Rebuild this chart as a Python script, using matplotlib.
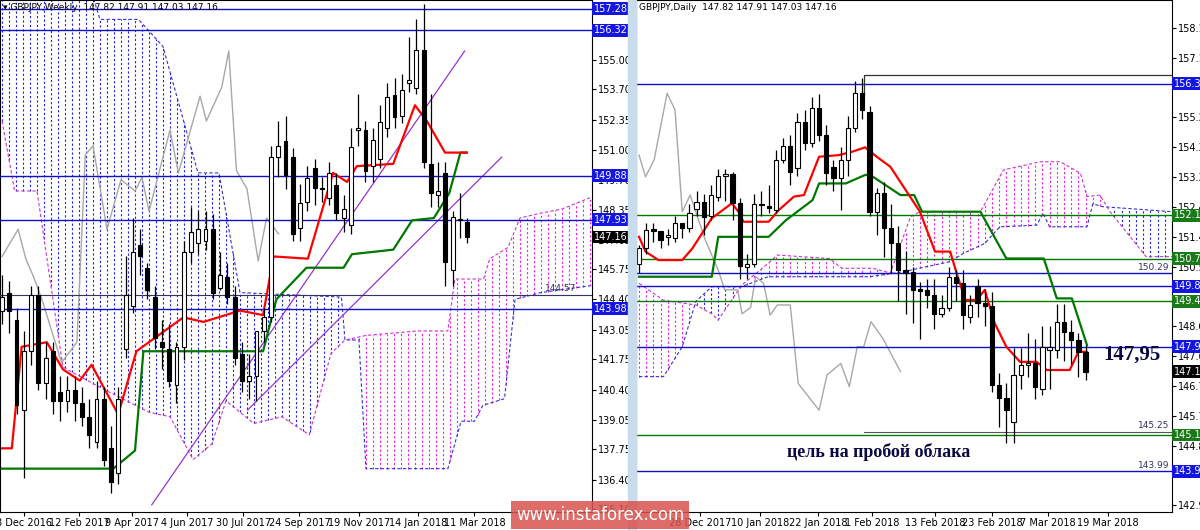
import matplotlib
matplotlib.use("Agg")
import matplotlib.pyplot as plt
import matplotlib.transforms as mtransforms
from matplotlib.patches import Rectangle
import numpy as np

BLUE = "#1010c8"
GREEN = "#007800"
RED = "#ff0000"
GRAY = "#a8a8a8"
NAVY = "#0a0a40"

# ---------------- weekly panel data ----------------
w_open = [143.9, 144.7, 143.5, 139.5, 142.1, 144.6, 140.7, 142.1, 140.3, 139.9,
          140.4, 139.8, 139.2, 138.1, 140.0, 137.8, 136.7, 142.2, 144.1, 146.8,
          145.8, 144.5, 142.5, 142.2, 140.6, 142.3, 146.5, 146.9, 147.0, 147.5,
          144.9, 145.4, 144.5, 142.0, 140.8, 141.0, 143.0, 143.6, 150.7, 151.4,
          150.7, 147.56, 148.7, 150.2, 149.35, 148.9, 149.46, 148.0, 147.7, 151.9,
          151.9, 150.3, 150.6, 152.0, 153.45, 152.5, 154.0, 153.76, 155.44, 150.4,
          149.0, 150.0, 145.7, 147.9, 147.82]
w_close = [144.5, 143.9, 139.7, 142.1, 144.6, 140.7, 141.8, 139.9, 139.9, 140.4,
           139.8, 139.2, 138.4, 140.0, 137.3, 136.3, 140.0, 144.6, 146.5, 146.3,
           144.8, 142.7, 142.3, 140.8, 142.3, 146.5, 147.4, 147.5, 147.5, 144.7,
           145.5, 144.5, 141.8, 140.8, 141.0, 143.0, 143.6, 150.7, 151.2, 149.9,
           147.3, 148.67, 149.77, 149.33, 149.3, 150.0, 148.22, 148.4, 151.15, 152.0,
           150.1, 151.46, 152.25, 153.36, 152.48, 153.67, 154.1, 155.44, 150.48, 149.1,
           149.2, 146.05, 148.05, 147.95, 147.16]
w_high = [145.5, 145.2, 144.0, 143.0, 145.0, 145.0, 142.5, 142.5, 141.0, 141.0,
          141.0, 140.5, 140.0, 140.8, 140.5, 138.8, 140.5, 146.3, 148.0, 147.5,
          146.0, 145.0, 143.5, 143.3, 142.5, 147.0, 148.5, 148.3, 148.3, 148.2,
          146.5, 146.0, 145.0, 142.5, 142.0, 141.8, 144.0, 151.2, 152.3, 152.5,
          151.1, 149.5, 150.3, 150.6, 149.8, 150.5, 150.0, 149.0, 152.0, 153.5,
          152.3, 152.0, 153.0, 154.0, 154.2, 154.4, 156.0, 156.8, 157.5, 153.5,
          150.5, 150.5, 148.3, 149.1, 148.0]
w_low = [143.3, 142.9, 139.3, 136.5, 141.5, 140.4, 140.0, 139.3, 139.0, 139.4,
         139.0, 138.8, 137.8, 137.8, 137.0, 135.8, 136.2, 141.8, 143.8, 145.5,
         144.4, 142.2, 141.3, 140.5, 139.8, 141.7, 146.0, 146.4, 146.6, 144.4,
         144.8, 144.2, 141.5, 140.3, 140.0, 139.9, 142.5, 143.4, 149.8, 149.3,
         147.0, 147.0, 148.3, 148.6, 148.7, 148.6, 147.9, 147.4, 147.3, 151.2,
         149.6, 149.6, 150.2, 151.6, 152.0, 152.2, 153.6, 153.5, 150.2, 148.5,
         148.5, 145.0, 145.0, 147.1, 146.9]

w_tenkan_x = [0, 1.4, 2.8, 6.4, 8.7, 11.1, 12.8, 16.6, 19.2, 25.9, 28.8, 34, 37.3, 38.8,
              43.7, 47.3, 49.3, 50.7, 55.9, 59, 60.7, 63.3, 66.4]
w_tenkan_y = [137.8, 137.8, 142.3, 142.5, 141.3, 140.8, 141.5, 139.3, 142.1, 143.6, 143.4,
              143.9, 143.7, 146.3, 146.2, 150.0, 149.6, 150.3, 150.4, 153.0, 152.3, 150.9, 150.9]
w_kijun_x = [0, 15.9, 19, 20.2, 37.3, 39.2, 43.5, 48.8, 50, 55.9, 58.6, 61.7, 63.9, 65.5, 66.4]
w_kijun_y = [136.9, 136.9, 137.7, 142.1, 142.1, 144.4, 145.8, 145.8, 146.4, 146.6, 147.9,
             148.0, 149.1, 150.9, 150.9]
w_chikou_x = [0, 2.3, 3.4, 4.5, 5.7, 8.5, 10.7, 11.9, 13, 15, 17, 19, 20, 21, 24, 25.2,
              28.3, 29.2, 31.4, 32.4, 33.5, 35, 36.6, 37.8, 39.5]
w_chikou_y = [146.3, 147.5, 146.2, 145.4, 144.4, 141.6, 142.5, 150.8, 151.2, 147.5, 149.7,
              149.2, 149.8, 148.3, 151.9, 150.0, 153.4, 152.3, 153.8, 155.4, 150.1, 149.3,
              146.1, 148.0, 147.3]
w_spanA_x = [0, 13, 14, 19.5, 23, 28, 31, 34, 48.5, 49, 51, 52, 63.7, 65.6, 67.5, 68.7,
             71.8, 73.3, 77, 84]
w_spanA_y = [157.8, 157.8, 156.8, 156.8, 155.6, 150.0, 150.0, 144.7, 144.5, 142.6, 142.6,
             136.9, 136.9, 139.0, 139.0, 139.7, 140.0, 144.4, 144.7, 145.0]
w_spanB_x = [0, 1.8, 5, 8.7, 14, 21, 24, 27.3, 30, 32, 36, 40, 43.9, 47, 49, 52, 59.4,
             63.7, 64.7, 68.8, 69.7, 72.3, 74, 76.7, 80, 84]
w_spanB_y = [152.3, 149.2, 149.2, 141.4, 140.5, 139.4, 139.2, 137.3, 138.0, 139.9, 138.9,
             139.2, 138.4, 142.0, 142.6, 142.8, 143.0, 143.0, 145.3, 145.3, 146.2, 146.7,
             148.0, 148.2, 148.4, 148.9]
w_levels = [157.28, 156.32, 149.88, 147.93, 143.98]
w_yticks = [155.00, 153.70, 152.35, 151.00, 149.70, 148.35, 147.05, 145.75, 144.40,
            143.05, 141.75, 140.40, 139.05, 137.75, 136.40, 135.10]
w_date_pos = [3.2, 11.0, 18.5, 26.5, 34.5, 42.5, 51.0, 59.5, 67.5]
w_date_lbl = ["8 Dec 2016", "12 Feb 2017", "9 Apr 2017", "4 Jun 2017", "30 Jul 2017",
              "24 Sep 2017", "19 Nov 2017", "14 Jan 2018", "11 Mar 2018"]

# ---------------- daily panel data ----------------
d_open = [150.58, 151.08, 151.67, 151.65, 151.45, 151.40, 151.88, 151.72, 152.33, 152.57,
          152.10, 152.73, 153.40, 153.44, 152.54, 150.48, 150.60, 152.50, 152.44, 152.32,
          153.90, 154.34, 153.63, 155.12, 154.43, 155.54, 154.69, 153.68, 153.31, 153.90,
          154.93, 156.02, 155.43, 152.25, 152.83, 151.72, 151.26, 150.39, 150.34, 149.78,
          149.76, 149.60, 149.00, 149.20, 150.18, 149.97, 148.90, 149.88, 149.33, 149.24,
          146.73, 146.31, 145.56, 147.05, 147.37, 147.42, 146.62, 147.85, 147.85, 148.75,
          148.43, 148.16, 147.79]
d_close = [151.08, 151.67, 151.65, 151.35, 151.50, 151.88, 151.72, 152.22, 152.57, 152.07,
           152.78, 153.40, 153.44, 152.54, 150.52, 150.60, 152.50, 152.46, 152.36, 153.90,
           154.34, 153.52, 155.12, 154.43, 155.54, 154.69, 153.47, 153.31, 153.90, 154.93,
           156.02, 155.49, 152.25, 152.83, 151.72, 151.26, 150.39, 150.29, 149.76, 149.74,
           149.60, 149.00, 149.20, 150.18, 149.97, 148.96, 149.28, 149.33, 149.24, 146.73,
           146.31, 145.93, 147.05, 147.37, 147.42, 146.68, 147.95, 147.95, 148.75, 148.43,
           148.16, 147.79, 147.16]
d_high = [151.2, 151.9, 151.9, 151.6, 151.7, 152.1, 151.9, 152.5, 152.9, 152.8,
          153.1, 153.6, 153.6, 153.5, 152.7, 150.9, 152.8, 152.9, 153.1, 154.2,
          154.6, 154.7, 155.4, 155.5, 155.9, 156.0, 155.0, 153.9, 154.3, 155.3,
          156.4, 156.5, 155.6, 153.0, 153.2, 152.5, 151.8, 151.0, 150.5, 150.0,
          150.1, 150.1, 149.6, 150.5, 150.4, 150.4, 149.6, 150.1, 149.8, 149.7,
          147.1, 146.8, 147.9, 147.9, 148.4, 148.2, 148.6, 148.6, 149.3, 149.3,
          148.8, 148.4, 148.0]
d_low = [150.3, 150.9, 151.3, 151.1, 151.2, 151.3, 151.4, 151.6, 152.1, 151.5,
         152.0, 152.6, 152.6, 152.0, 150.1, 150.1, 150.5, 152.1, 152.2, 152.2,
         153.8, 153.1, 153.4, 154.2, 154.3, 154.5, 153.1, 152.9, 152.3, 153.4,
         154.8, 155.2, 152.1, 151.5, 150.8, 150.3, 149.4, 149.0, 148.7, 148.2,
         149.2, 148.5, 148.9, 149.1, 149.4, 148.5, 148.7, 148.9, 148.6, 146.5,
         145.4, 144.9, 144.9, 146.6, 147.0, 146.3, 146.4, 146.6, 147.6, 147.5,
         147.4, 147.0, 146.9]
d_tenkan_x = [0, 0.9, 2.7, 6, 7.4, 10.1, 12.9, 13.8, 14.5, 18, 19.4, 21.5, 22.9, 25, 27.7,
              29.6, 31.4, 33, 34.9, 39, 41.1, 43.2, 44.1, 45.3, 46.9, 48, 49.4, 51, 52.9,
              55.2, 56.6, 59.8, 61, 62.2]
d_tenkan_y = [151.45, 150.98, 150.71, 150.71, 151.08, 152.04, 152.52, 152.25, 151.93, 151.93,
              152.3, 152.73, 152.78, 154.0, 154.05, 154.16, 154.3, 154.0, 153.68, 152.25,
              150.98, 150.98, 150.29, 149.44, 149.44, 149.76, 148.69, 147.95, 147.47, 147.47,
              147.21, 147.21, 147.79, 147.79]
d_kijun_x = [0, 10.1, 11, 18, 20.4, 24.1, 25, 28.7, 31.4, 32.1, 36.3, 38.2, 39.3, 47.4, 51,
             56.2, 58, 60.1, 62.2]
d_kijun_y = [150.18, 150.18, 151.45, 151.45, 151.98, 152.62, 153.15, 153.15, 153.42, 153.42,
             152.78, 152.78, 152.25, 152.25, 150.76, 150.76, 149.49, 149.49, 148.0]
d_chikou_x = [0, 0.9, 2.1, 3.9, 5, 6, 7.1, 9.2, 11, 11.9, 13.7, 14.3, 15.5, 16.2, 17.3, 18.2,
              19.2, 21, 22.1, 25, 26.1, 28, 29.2, 30.3, 31.2, 32.2, 33.9, 36.3]
d_chikou_y = [154.05, 153.36, 153.9, 156.02, 155.49, 152.25, 152.78, 151.35, 150.39, 149.76,
              149.76, 149.0, 149.2, 150.18, 149.97, 148.96, 149.28, 149.28, 146.78, 145.93,
              147.05, 147.42, 146.68, 147.95, 147.95, 148.75, 148.2, 147.16]
d_spanA_x = [0, 3.4, 6, 7.9, 10.1, 11, 14.2, 17.9, 32.1, 36.7, 43.2, 45, 48, 50.1, 55.2,
             56.1, 57, 62.2, 63, 64.4, 74]
d_spanA_y = [147.0, 147.0, 147.95, 149.4, 149.86, 149.86, 149.86, 150.18, 150.18, 150.34,
             150.66, 150.92, 151.24, 151.77, 151.82, 152.2, 151.77, 151.77, 152.5, 152.41,
             152.25]
d_spanB_x = [0, 3.4, 7.9, 10.1, 11, 14.2, 17.9, 19.2, 26.4, 28.2, 32.4, 34.9, 37.7, 39,
             47.4, 50.6, 55.7, 58.5, 61.3, 62.2, 64, 65.4, 70.4, 74]
d_spanB_y = [149.97, 149.43, 149.28, 149.0, 148.8, 149.9, 150.6, 150.87, 150.76, 150.45,
             150.45, 150.3, 152.09, 152.25, 152.25, 153.58, 153.84, 153.84, 153.47, 152.73,
             152.78, 152.25, 150.82, 150.82]
d_blue_levels = [156.32, 150.29, 149.88, 147.95, 143.99]
d_green_levels = [152.13, 150.76, 149.40, 145.14]
d_yticks = [158.10, 157.15, 155.25, 154.30, 153.35, 152.40, 151.45, 150.50, 148.60, 147.65,
            146.70, 145.75, 144.80, 142.90]
d_date_pos = [8.5, 16.8, 24.9, 32.4, 41.1, 49.0, 56.8, 65.1]
d_date_lbl = ["28 Dec 2017", "10 Jan 2018", "22 Jan 2018", "1 Feb 2018", "13 Feb 2018",
              "23 Feb 2018", "7 Mar 2018", "19 Mar 2018"]

WEEK_STEP = 1.0386


def candles(ax, xs, o, h, l, c, width):
    for x, oo, hh, ll, cc in zip(xs, o, h, l, c):
        ax.vlines(x, ll, hh, color="black", lw=0.9, zorder=5)
        lo, hi = min(oo, cc), max(oo, cc)
        ax.add_patch(Rectangle((x - width / 2, lo), width, max(hi - lo, 0.04),
                               facecolor="white" if cc >= oo else "black",
                               edgecolor="black", lw=0.8, zorder=6))


def cloud(ax, ax_x, ay, bx, by, xmax):
    xs = np.arange(0, xmax + 0.01, 1.0)
    a = np.interp(xs, ax_x, ay)
    b = np.interp(xs, bx, by)
    for x, va, vb in zip(xs, a, b):
        col = "#2222ee" if va >= vb else "#ee22ee"
        ax.vlines(x, min(va, vb), max(va, vb), colors=col, linestyles=(0, (2, 2)), lw=0.8, zorder=1)
    ax.plot(ax_x, ay, color="#3333cc", ls=(0, (3, 2)), lw=0.8, zorder=1)
    ax.plot(bx, by, color="#cc33cc", ls=(0, (3, 2)), lw=0.8, zorder=1)


def price_box(ax, y, text, bg, fg="white"):
    tr = mtransforms.blended_transform_factory(ax.transAxes, ax.transData)
    ax.text(1.003, y, text, transform=tr, fontsize=7, color=fg, va="center", ha="left",
            bbox=dict(boxstyle="square,pad=0.15", fc=bg, ec="none"), zorder=10, clip_on=False)


fig = plt.figure(figsize=(12, 5.3), dpi=100)
fig.add_artist(Rectangle((0.523, 0), 0.007, 1, transform=fig.transFigure, color="#c8dced"))

# ---------- left: weekly ----------
ax = fig.add_axes([0.0, 0.034, 592 / 1200, 0.966])
cloud(ax, w_spanA_x, w_spanA_y, w_spanB_x, w_spanB_y, 84)
ax.plot(w_chikou_x, w_chikou_y, color=GRAY, lw=1.0, zorder=2)
ax.plot([21.4, 66.1], [135.3, 155.4], color="#9933cc", lw=0.9, zorder=3)
ax.plot([35.1, 71.4], [139.5, 150.7], color="#9933cc", lw=0.9, zorder=3)
ax.plot(w_kijun_x, w_kijun_y, color=GREEN, lw=1.6, zorder=4)
ax.plot(w_tenkan_x, w_tenkan_y, color=RED, lw=1.6, zorder=4)
wx = np.arange(len(w_close)) * WEEK_STEP
candles(ax, wx, w_open, w_high, w_low, w_close, 0.55)
for lv in w_levels:
    ax.axhline(lv, color=BLUE, lw=1.0, zorder=3)
ax.axhline(144.57, color="#333366", lw=0.8, zorder=3)
ax.text(82, 144.7, "144.57", fontsize=6.5, color="#333366", ha="right", va="bottom")
ax.set_xlim(-0.29, 84.3)
ax.set_ylim(134.98, 157.66)
ax.yaxis.tick_right()
ax.set_yticks(w_yticks, [f"{v:.2f}" for v in w_yticks], fontsize=7)
ax.set_xticks(w_date_pos, w_date_lbl, fontsize=7)
ax.tick_params(length=3, pad=1)
for lv in w_levels:
    price_box(ax, lv, f"{lv:.2f}", "#1515e0")
price_box(ax, 147.16, "147.16", "black")
ax.text(0.005, 0.995, "▾ GBPJPY,Weekly  147.82 147.91 147.03 147.16", transform=ax.transAxes,
        fontsize=6.5, va="top", ha="left")

# ---------- right: daily ----------
ax = fig.add_axes([636 / 1200, 0.034, 536 / 1200, 0.966])
cloud(ax, d_spanA_x, d_spanA_y, d_spanB_x, d_spanB_y, 74)
ax.plot(d_chikou_x, d_chikou_y, color=GRAY, lw=1.0, zorder=2)
for lv in d_green_levels:
    ax.axhline(lv, color=GREEN, lw=1.0, zorder=3)
for lv in d_blue_levels:
    ax.axhline(lv, color=BLUE, lw=1.0, zorder=3)
ax.plot([31.3, 31.3, 74], [156.0, 156.6, 156.6], color="#333333", lw=0.9, zorder=3)
ax.plot([31.3, 74], [145.25, 145.25], color="#555555", lw=0.8, zorder=3)
ax.plot(d_kijun_x, d_kijun_y, color=GREEN, lw=1.6, zorder=4)
ax.plot(d_tenkan_x, d_tenkan_y, color=RED, lw=1.6, zorder=4)
dx = np.arange(len(d_close))
candles(ax, dx, d_open, d_high, d_low, d_close, 0.6)
ax.set_xlim(-0.42, 74.0)
ax.set_ylim(142.69, 158.99)
ax.yaxis.tick_right()
ax.set_yticks(d_yticks, [f"{v:.2f}" for v in d_yticks], fontsize=7)
ax.set_xticks(d_date_pos, d_date_lbl, fontsize=7)
ax.tick_params(length=3, pad=1)
for lv in d_blue_levels:
    if lv != 150.29:
        price_box(ax, lv, f"{lv:.2f}", "#1515e0")
for lv in d_green_levels:
    price_box(ax, lv, f"{lv:.2f}", "#1a7a1a")
price_box(ax, 147.16, "147.16", "black")
for lv, txt in [(150.29, "150.29"), (145.25, "145.25"), (143.99, "143.99")]:
    ax.text(73.6, lv + 0.05, txt, fontsize=6.5, color="#333366", ha="right", va="bottom")
ax.text(0.005, 0.995, "GBPJPY,Daily  147.82 147.91 147.03 147.16", transform=ax.transAxes,
        fontsize=6.5, va="top", ha="left")
ax.text(64.5, 147.7, "147,95", fontsize=15, fontweight="bold", family="Liberation Serif",
        color=NAVY, va="center", ha="left")
ax.text(20.5, 144.6, "цель на пробой облака", fontsize=13, fontweight="bold",
        family="Liberation Serif", color=NAVY, va="center", ha="left")

fig.text(0.5, 0.012, "www.instaforex.com", fontsize=12, color="white", ha="center",
         va="bottom", bbox=dict(boxstyle="square,pad=0.3", fc="#d9534f", ec="none", alpha=0.85))

fig.savefig("out.png", dpi=100)
